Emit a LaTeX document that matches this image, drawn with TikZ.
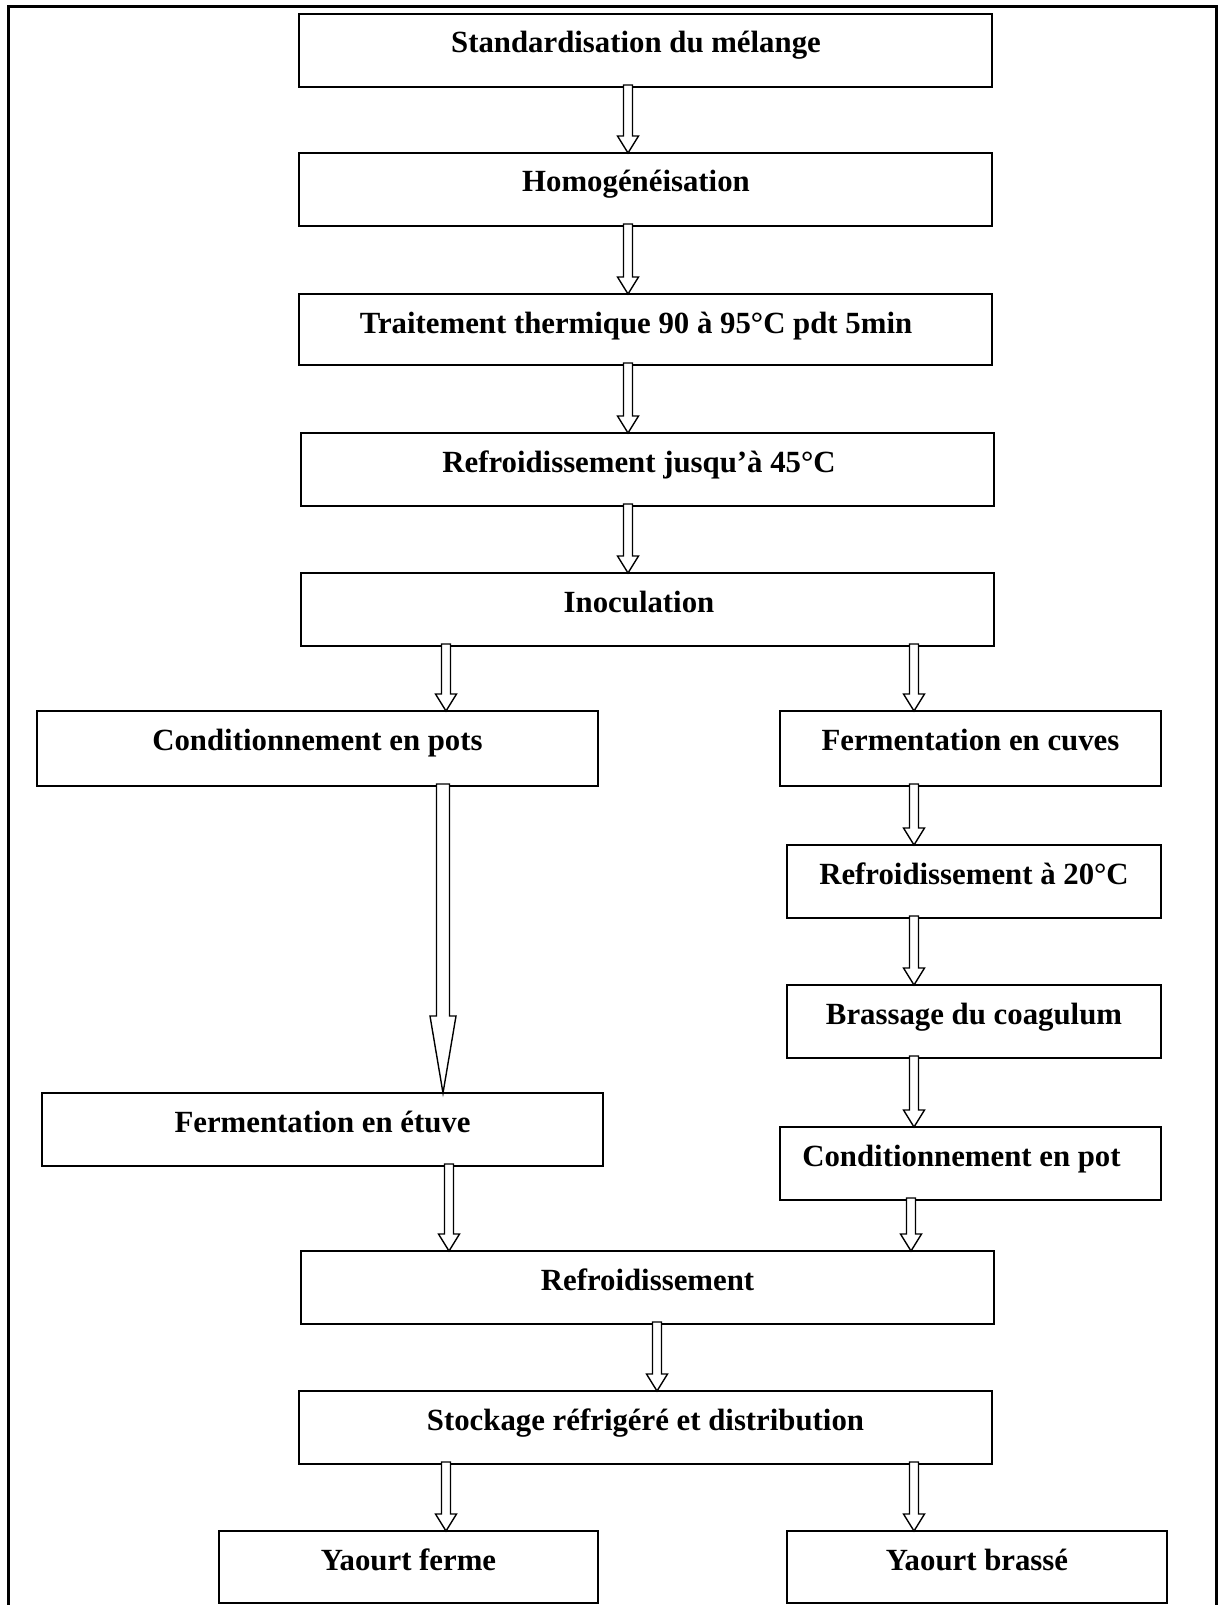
\documentclass[tikz,border=0pt]{standalone}
\usepackage{fontspec}
\setmainfont{Liberation Serif}
\usetikzlibrary{calc}
\tikzset{
  box/.style={draw, line width=2.4pt, rectangle, inner sep=0pt, outer sep=0pt,
    font=\bfseries\fontsize{30.8}{36}\selectfont, text height=39pt, anchor=north west},
  arr/.style={draw, line width=1.4pt, fill=white, line join=miter},
  frame/.style={draw, line width=3pt}
}
% name, x1, y1, width, depth, text
\newcommand\mkbox[6]{\node[box, minimum width=#4pt, text depth=#5pt] (#1) at (#2,#3) {#6};}
% x, from, to, halfshaft, halfhead, headlen
\newcommand\harr[6]{\draw[arr] let \p1=(#2.south), \p2=(#3.north) in
  (#1pt-#4pt,\y1+2pt) -- (#1pt-#4pt,\y2+#6pt) -- (#1pt-#5pt,\y2+#6pt) -- (#1pt,\y2)
  -- (#1pt+#5pt,\y2+#6pt) -- (#1pt+#4pt,\y2+#6pt) -- (#1pt+#4pt,\y1+2pt) -- cycle;}
\begin{document}
\begin{tikzpicture}[x=1pt,y=-1pt]
\clip (0,0) rectangle (1222,1605);
\fill[white] (0,0) rectangle (1222,1605);
\coordinate (fbl) at (8,1615);
\coordinate (ftl) at (8,7);
\coordinate (ftr) at (1216,7);
\coordinate (fbr) at (1216,1615);
\draw[frame] (fbl) -- (ftl) -- (ftr) -- (fbr);

\mkbox{b1}{299}{14}{693}{34}{Standardisation du mélange\hspace*{19pt}}
\mkbox{b2}{299}{153}{693}{34}{Homogénéisation\hspace*{19pt}}
\mkbox{b3}{299}{294}{693}{32}{Traitement thermique 90 à 95°C pdt 5min\hspace*{19pt}}
\mkbox{b4}{301}{433}{693}{34}{Refroidissement jusqu’à 45°C\hspace*{17pt}}
\mkbox{b5}{301}{573}{693}{34}{Inoculation\hspace*{17pt}}
\mkbox{b6}{37}{711}{561}{36}{Conditionnement en pots}
\mkbox{b7}{780}{711}{381}{36}{Fermentation en cuves}
\mkbox{b8}{787}{845}{374}{34}{Refroidissement à 20°C}
\mkbox{b9}{787}{985}{374}{34}{Brassage du coagulum}
\mkbox{b10}{780}{1127}{381}{34}{Conditionnement en pot\hspace*{18pt}}
\mkbox{b11}{42}{1093}{561}{34}{Fermentation en étuve}
\mkbox{b12}{301}{1251}{693}{34}{Refroidissement}
\mkbox{b13}{299}{1391}{693}{34}{Stockage réfrigéré et distribution}
\mkbox{b14}{219}{1531}{379}{33}{Yaourt ferme}
\mkbox{b15}{787}{1531}{380}{33}{Yaourt brassé}

\harr{628}{b1}{b2}{4.5}{10.5}{17}
\harr{628}{b2}{b3}{4.5}{10.5}{17}
\harr{628}{b3}{b4}{4.5}{10.5}{17}
\harr{628}{b4}{b5}{4.5}{10.5}{17}
\harr{446}{b5}{b6}{4.5}{10.5}{17}
\harr{914}{b5}{b7}{4.5}{10.5}{17}
\harr{443}{b6}{b11}{6.5}{13}{77}
\harr{914}{b7}{b8}{4.5}{10.5}{17}
\harr{914}{b8}{b9}{4.5}{10.5}{17}
\harr{914}{b9}{b10}{4.5}{10.5}{17}
\harr{449}{b11}{b12}{4.5}{10.5}{17}
\harr{911}{b10}{b12}{4.5}{10.5}{17}
\harr{657}{b12}{b13}{4.5}{10.5}{17}
\harr{446}{b13}{b14}{4.5}{10.5}{17}
\harr{914}{b13}{b15}{4.5}{10.5}{17}
\end{tikzpicture}
\end{document}
